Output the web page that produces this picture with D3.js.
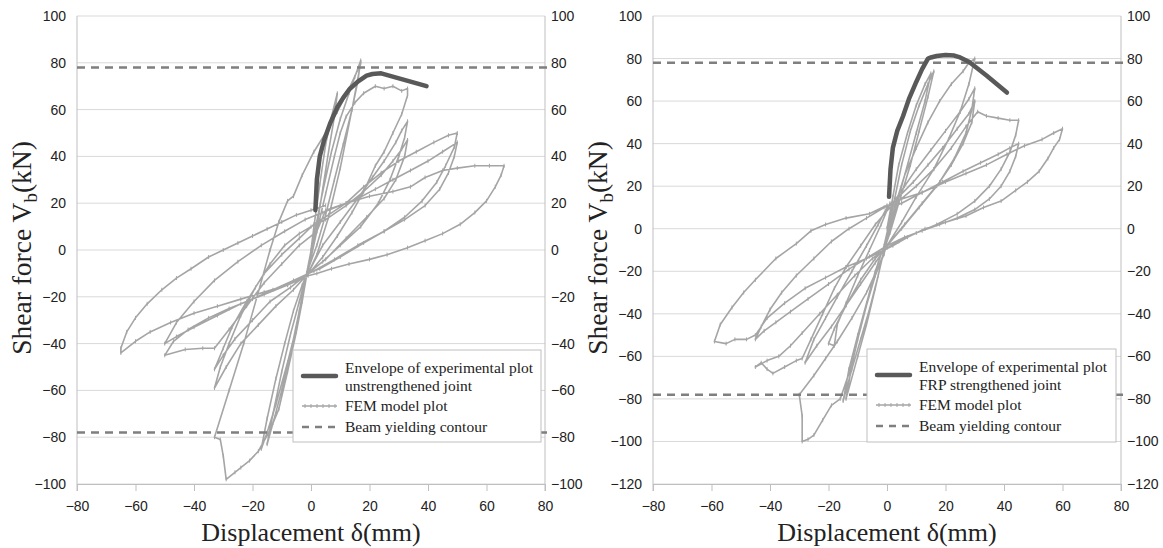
<!DOCTYPE html>
<html>
<head>
<meta charset="utf-8">
<script src="https://cdn.jsdelivr.net/npm/d3@7"></script>
<style>
  body { margin: 0; background: #fff; }
  text { fill: #222; }
</style>
</head>
<body>
<div id="chart"></div>
<script>
// ---------- data ----------
const xTicks = d3.range(-80, 81, 20);
const yTicksLeft = d3.range(-100, 101, 20);
const yTicksRight = d3.range(-120, 101, 20);
const yieldLevels = [78, -78];

const legendLeft = ["Envelope of experimental plot", "unstrengthened joint", "FEM model plot", "Beam yielding contour"];
const legendRight = ["Envelope of experimental plot", "FRP strengthened joint", "FEM model plot", "Beam yielding contour"];

// envelope of the experimental plot [displacement, force]
const envelopeLeft = [[1.5,17],[2,30],[3,40],[4.5,47],[6.5,54],[9,61],[11,65],[13,68.5],[16,72],[19,74.5],[21,75.2],[24,75.5],[39.5,70]];
const envelopeRight = [[0.7,15],[1.2,28],[2,38],[3.5,46],[5.5,53],[7.5,61],[10,69],[12,75],[14,80],[15,80.5],[17,81.2],[20,81.7],[23,81.4],[25,80.5],[28,78.5],[34,72],[41,64]];

// FEM model hysteresis, unstrengthened joint
const femLeft = [
  [0,0],[1,10],[3,28],[5,45],[7,57],[9,67],[8,57],[6,42],[4,26],[2,10],[0,-3],[-1.5,-10],
  [-4,-26],[-7,-44],[-10,-60],[-13,-74],[-15,-83],[-13,-70],[-10,-52],[-7,-36],[-4,-22],[-1.5,-10],
  [1,6],[4,25],[7,42],[10,56],[13,67],[15,74],[17,81],[16,72],[14,60],[11,45],[8,30],[5,15],[2,2],[-1.5,-10],
  [-4,-28],[-8,-48],[-12,-66],[-15,-78],[-17,-85],[-15,-72],[-12,-55],[-9,-40],[-6,-26],[-3,-15],[-1,-9],
  [2,8],[5,24],[8,40],[10,50],[12,57],[15,63],[18,67],[22,70],[25,69],[28,70],[31,68],[33,69],
  [33,66],[31,58],[28,50],[25,42],[22,36],[18,25],[14,16],[9,6],[4,-3],[0,-9],[-1.5,-11],
  [-3,-22],[-5,-35],[-8,-52],[-11,-68],[-14,-77],[-18,-86],[-21,-90],[-24,-93],[-26,-95],[-29,-98],
  [-30,-88],[-31,-81],[-33,-80],[-28,-60],[-23,-40],[-18,-18],[-14,0],[-11,12],[-8,21],[-6,23],
  [-3,32],[1,42],[5,50],[9,59],[13,69],[16,77],[17,80],[14,60],[10,35],[6,14],[2,-2],[-1,-10],
  [4,2],[10,12],[16,22],[21,31],[25,38],[29,46],[31,51],[33,55],
  [32,48],[30,40],[27,30],[23,20],[17,10],[10,2],[4,-5],[-1,-10],
  [-6,-17],[-12,-24],[-18,-32],[-24,-40],[-29,-50],[-33,-59],
  [-31,-50],[-28,-40],[-24,-28],[-19,-16],[-14,-6],[-9,2],[-4,7],[0,10],
  [5,13],[12,19],[18,25],[24,32],[28,38],[31,43],[33,47],
  [32,40],[29,30],[25,22],[19,14],[12,5],[5,-4],[-1,-10],
  [-7,-16],[-14,-22],[-20,-30],[-26,-38],[-30,-45],[-33,-51],
  [-30,-42],[-27,-33],[-22,-22],[-16,-10],[-10,-2],[-4,5],[1,11],
  [6,15],[12,20],[18,27],[24,33],[30,38],[36,42],[42,46],[47,49],[50,50],
  [49,44],[46,36],[43,29],[38,21],[32,14],[25,8],[18,3],[10,-3],[3,-8],[-1,-10],
  [-8,-15],[-16,-19],[-24,-23],[-32,-28],[-40,-33],[-46,-37],[-50,-40],
  [-46,-31],[-40,-22],[-33,-13],[-25,-5],[-17,2],[-9,8],[-2,13],[4,16],
  [10,19],[16,22],[22,26],[28,30],[34,34],[40,38],[45,42],[50,46],
  [49,40],[47,33],[44,26],[39,19],[32,13],[25,8],[16,2],[8,-4],[1,-9],
  [-6,-13],[-13,-17],[-20,-21],[-28,-25],[-35,-29],[-42,-34],[-47,-39],[-50,-45],
  [-43,-42.5],[-37,-42],[-33,-42],[-28,-34],[-22,-24],[-16,-14],[-10,-6],[-4,2],[2,8],
  [5,17],[12,20],[20,23],[28,25],[34,27],[39,31],[45,34],[50,35],[56,36],[61,36],[66,36],
  [65,32],[63,27],[60,21],[56,16],[51,11],[45,7],[39,4],[33,1],[26,-2],[20,-4],[13,-6],[7,-8],[2,-10],[-1,-11],
  [-8,-15],[-16,-18],[-24,-21],[-32,-24],[-40,-27],[-48,-31],[-55,-35],[-60,-39],[-65,-44],
  [-65,-42],[-63,-35],[-60,-29],[-56,-23],[-51,-17],[-46,-12],[-41,-8],[-35,-3],[-30,0],[-25,3],
  [-20,6],[-15,9],[-10,12],[-5,15],[0,17],[5,19]
];

// FEM model hysteresis, FRP strengthened joint
const femRight = [
  [0,0],[2,15],[4,30],[7,45],[10,58],[13,68],[15,73],[13,60],[10,45],[7,30],[4,15],[1,0],[-1,-10],
  [-3,-22],[-6,-38],[-9,-52],[-12,-66],[-15,-81],[-13,-66],[-10,-50],[-7,-35],[-4,-20],[-1,-8],
  [2,10],[5,30],[8,46],[11,58],[14,68],[16,74],[14,62],[11,46],[8,30],[4,12],[1,-2],[-1,-10],
  [-4,-28],[-7,-45],[-10,-60],[-14,-80],[-12,-64],[-9,-46],[-6,-30],[-3,-16],[0,-4],
  [3,12],[6,25],[10,38],[14,50],[18,60],[22,68],[26,74],[28,78],[30,80],
  [28,68],[25,55],[21,42],[16,28],[10,15],[5,3],[0,-8],
  [-3,-18],[-7,-30],[-12,-42],[-17,-53],[-21,-61],[-25,-69],[-30,-78],[-29,-88],[-29,-100],
  [-27,-99],[-25,-97],[-22,-90],[-19,-83],[-16,-80],[-13,-68],[-10,-52],[-7,-36],[-4,-22],[-1,-12],
  [2,12],[6,20],[10,28],[15,37],[20,46],[25,55],[28,61],[30,66],
  [29,56],[27,45],[23,33],[18,22],[12,12],[6,2],[0,-8],
  [-4,-16],[-9,-26],[-14,-36],[-19,-46],[-24,-55],[-28,-63],
  [-25,-52],[-21,-42],[-17,-32],[-12,-20],[-7,-8],[-3,2],[0,10],
  [4,15],[9,22],[14,30],[19,38],[24,47],[28,54],[30,60],
  [29,50],[26,40],[22,30],[17,20],[11,10],[5,0],[0,-8],
  [-4,-14],[-9,-24],[-14,-36],[-18,-47],[-20,-54],[-18,-55],
  [-17,-45],[-14,-35],[-10,-22],[-6,-10],[-2,2],[1,12],
  [4,13],[10,20],[16,28],[22,38],[27,48],[31,55],[34,53],[38,52],[42,51],[45,51],
  [44,44],[42,36],[39,28],[35,20],[30,13],[24,7],[17,2],[10,-2],[4,-6],[0,-9],
  [-5,-14],[-11,-22],[-17,-31],[-23,-40],[-29,-49],[-33,-55],[-37,-60],[-41,-62],[-45,-65],
  [-43,-63],[-41,-66],[-39,-68],[-35,-65],[-31,-62],[-29,-61],
  [-26,-52],[-22,-40],[-18,-28],[-14,-18],[-9,-8],[-4,2],[1,10],
  [5,12],[12,17],[19,22],[26,27],[32,31],[38,35],[42,38],[45,40],
  [44,34],[42,27],[39,20],[35,14],[30,9],[24,5],[18,2],[12,-1],[6,-4],[0,-8],
  [-6,-13],[-13,-19],[-20,-26],[-27,-33],[-33,-39],[-38,-44],[-42,-48],[-45,-52],
  [-43,-46],[-40,-38],[-36,-30],[-31,-22],[-25,-14],[-19,-6],[-13,0],[-7,5],[-1,10],
  [5,14],[12,17],[20,22],[27,26],[34,30],[41,35],[47,39],[53,42],[57,45],[60,47],
  [59,42],[57,38],[55,33],[52,27],[48,22],[44,18],[39,13],[33,10],[27,6],[20,3],[13,0],[7,-4],[2,-8],[-1,-10],
  [-7,-14],[-14,-18],[-21,-23],[-28,-28],[-35,-35],[-41,-42],[-45,-50],[-48,-52],[-52,-52],[-55,-54],[-59,-53],
  [-57,-45],[-53,-37],[-49,-30],[-45,-24],[-38,-14],[-31,-7],[-26,-1],[-21,2],[-14,5],[-6,7],[0,11],[5,12]
];

// ---------- layout ----------
const width = 1163, height = 548;
const panels = [
  { left: 77, right: 545, top: 16, bottom: 484, yDomain: [-100, 100], yTicks: yTicksLeft,
    fem: femLeft, envelope: envelopeLeft, legend: legendLeft, legendBox: { x: 293, y: 350, w: 248, h: 92 } },
  { left: 653, right: 1121, top: 16, bottom: 484, yDomain: [-120, 100], yTicks: yTicksRight,
    fem: femRight, envelope: envelopeRight, legend: legendRight, legendBox: { x: 867, y: 349, w: 249, h: 93 } }
];

const femColor = "#a5a5a5", envColor = "#595959", dashColor = "#7f7f7f", gridColor = "#d9d9d9";

const svg = d3.select("#chart").append("svg")
  .attr("width", width)
  .attr("height", height)
  .style("font-family", "'Liberation Sans', Arial, sans-serif");

panels.forEach(p => {
  const x = d3.scaleLinear().domain([-80, 80]).range([p.left, p.right]);
  const y = d3.scaleLinear().domain(p.yDomain).range([p.bottom, p.top]);
  const g = svg.append("g");

  // horizontal gridlines
  g.selectAll("line.grid")
    .data(p.yTicks)
    .join("line")
    .attr("class", "grid")
    .attr("x1", p.left).attr("x2", p.right)
    .attr("y1", d => y(d)).attr("y2", d => y(d))
    .attr("stroke", gridColor).attr("stroke-width", 1);

  // left + right axes
  const yAxisL = d3.axisLeft(y).tickValues(p.yTicks).tickSize(0).tickPadding(11);
  const yAxisR = d3.axisRight(y).tickValues(p.yTicks).tickSize(0).tickPadding(6);
  const xAxis = d3.axisBottom(x).tickValues(xTicks).tickSize(7).tickPadding(10);

  [[yAxisL, p.left], [yAxisR, p.right]].forEach(([ax, pos]) => {
    const a = g.append("g").attr("transform", `translate(${pos},0)`).call(ax);
    a.select(".domain").attr("stroke", "#bfbfbf").attr("d", `M0,${p.top}V${p.bottom + 7}`);
    a.selectAll("text").style("font-size", "14px").attr("fill", "#222");
  });
  const xa = g.append("g").attr("transform", `translate(0,${p.bottom})`).call(xAxis);
  xa.select(".domain").attr("stroke", "#bfbfbf");
  xa.selectAll("line").attr("stroke", "#bfbfbf");
  xa.selectAll("text").style("font-size", "14px").attr("fill", "#222");

  // FEM curve
  const line = d3.line().x(d => x(d[0])).y(d => y(d[1]));
  g.append("path")
    .datum(p.fem)
    .attr("d", line)
    .attr("fill", "none")
    .attr("stroke", femColor)
    .attr("stroke-width", 1.6)
    .attr("stroke-linejoin", "round");
  g.selectAll("line.mk")
    .data(p.fem)
    .join("line")
    .attr("class", "mk")
    .attr("x1", d => x(d[0])).attr("x2", d => x(d[0]))
    .attr("y1", d => y(d[1]) - 2).attr("y2", d => y(d[1]) + 2)
    .attr("stroke", femColor).attr("stroke-width", 1);

  // beam yielding contour
  g.selectAll("line.yield")
    .data(yieldLevels)
    .join("line")
    .attr("class", "yield")
    .attr("x1", p.left).attr("x2", p.right + 2)
    .attr("y1", d => y(d)).attr("y2", d => y(d))
    .attr("stroke", dashColor).attr("stroke-width", 2.5)
    .attr("stroke-dasharray", "8,6");

  // experimental envelope
  g.append("path")
    .datum(p.envelope)
    .attr("d", line)
    .attr("fill", "none")
    .attr("stroke", envColor)
    .attr("stroke-width", 4.5)
    .attr("stroke-linecap", "round")
    .attr("stroke-linejoin", "round");

  // legend
  const b = p.legendBox;
  const lg = g.append("g").attr("transform", `translate(${b.x},${b.y})`);
  lg.append("rect")
    .attr("width", b.w).attr("height", b.h)
    .attr("fill", "#fff").attr("stroke", "#bfbfbf");
  const rowY = [18, 36, 56, 77];
  lg.selectAll("text")
    .data(p.legend)
    .join("text")
    .attr("x", 52)
    .attr("y", (d, i) => rowY[i])
    .attr("dy", "0.35em")
    .style("font-family", "'Liberation Serif', 'Times New Roman', serif")
    .style("font-size", "15.5px")
    .text(d => d);
  lg.append("line")
    .attr("x1", 10).attr("x2", 43).attr("y1", 26).attr("y2", 26)
    .attr("stroke", envColor).attr("stroke-width", 4.5).attr("stroke-linecap", "round");
  lg.append("line")
    .attr("x1", 9).attr("x2", 44).attr("y1", rowY[2]).attr("y2", rowY[2])
    .attr("stroke", femColor).attr("stroke-width", 1.6);
  lg.selectAll("line.lmk")
    .data(d3.range(6))
    .join("line")
    .attr("class", "lmk")
    .attr("x1", i => 12 + i * 6).attr("x2", i => 12 + i * 6)
    .attr("y1", rowY[2] - 2).attr("y2", rowY[2] + 2)
    .attr("stroke", femColor);
  lg.append("line")
    .attr("x1", 9).attr("x2", 44).attr("y1", rowY[3]).attr("y2", rowY[3])
    .attr("stroke", dashColor).attr("stroke-width", 2.5).attr("stroke-dasharray", "7,6");

  // axis titles
  const cx = (p.left + p.right) / 2;
  g.append("text")
    .attr("x", cx).attr("y", 541)
    .attr("text-anchor", "middle")
    .style("font-family", "'Liberation Serif', 'Times New Roman', serif")
    .style("font-size", "26px")
    .text("Displacement δ(mm)");
  const yt = g.append("text")
    .attr("transform", `translate(${p.left - 46},${(p.top + p.bottom) / 2 - 2}) rotate(-90)`)
    .attr("text-anchor", "middle")
    .style("font-family", "'Liberation Serif', 'Times New Roman', serif")
    .style("font-size", "27.5px");
  yt.append("tspan").text("Shear force V");
  yt.append("tspan").attr("dy", 6).style("font-size", "19px").text("b");
  yt.append("tspan").attr("dy", -6).text("(kN)");
});
</script>
</body>
</html>
